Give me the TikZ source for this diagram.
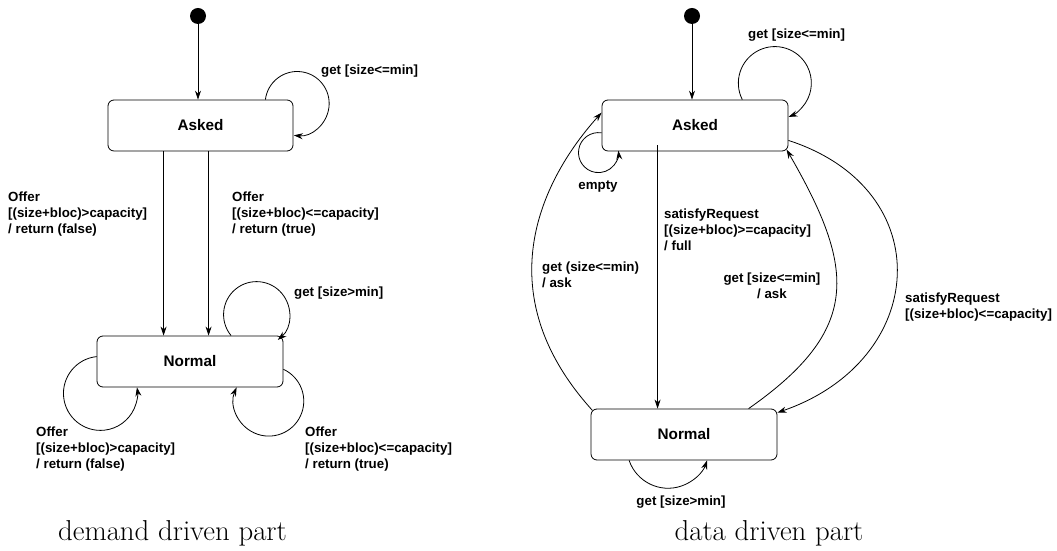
\documentclass[tikz,border=0pt]{standalone}
\usepackage{fontspec}
\setsansfont{Liberation Sans}
\usetikzlibrary{arrows.meta,calc}
\begin{document}
\begin{tikzpicture}[x=1pt,y=1pt,
  state/.style={draw, line width=0.8pt, rounded corners=6pt, minimum width=186pt, minimum height=51pt, inner sep=0pt,
    font=\sffamily\bfseries\fontsize{15.3}{18}\selectfont},
  init/.style={circle, fill=black, minimum size=16pt, inner sep=0pt},
  tr/.style={line width=0.8pt, -{Stealth[length=9pt,width=6pt]}},
  lbl/.style={inner sep=0pt, align=left, font=\sffamily\bfseries\fontsize{13.3}{16}\selectfont},
  captxt/.style={inner sep=0pt, font=\fontsize{28.8}{34}\selectfont}]
\useasboundingbox (0,0) rectangle (1057,551);

% ---------------- left: demand driven part
\node[init] (init1) at (198,535) {};
\node[state, minimum width=185pt] (asked1) at (200.5,425.5) {Asked};
\node[state] (normal1) at (190,189.5) {Normal};

\draw[tr] (init1) -- (init1 |- asked1.north);
\draw[tr] ([xshift=56pt]asked1.south west) coordinate (l1) -- (l1 |- normal1.north);
\draw[tr] ([xshift=101pt]asked1.south west) coordinate (l2) -- (l2 |- normal1.north);
\draw[tr] ([xshift=-28pt]asked1.north east) arc[start angle=173, end angle=-96, radius=32];
\draw[tr] ([xshift=134.5pt]normal1.north west) arc[start angle=219.5, end angle=-50, radius=33];
\draw[tr] ([yshift=-21pt]normal1.north west) arc[start angle=96, end angle=369.5, radius=37];
\draw[tr] ([yshift=-33.7pt]normal1.north east) arc[start angle=65.3, end angle=-203.2, radius=35];

\node[lbl, anchor=west] (t1) at (8,337) {Offer\\{}[(size+bloc)>capacity]\\/ return (false)};
\node[lbl, anchor=west] (t2) at (232,337) {Offer\\{}[(size+bloc)<=capacity]\\/ return (true)};
\node[lbl, anchor=west] (t3) at (36,102) {Offer\\{}[(size+bloc)>capacity]\\/ return (false)};
\node[lbl, anchor=west] (t4) at (305,102) {Offer\\{}[(size+bloc)<=capacity]\\/ return (true)};
\node[lbl, anchor=west] (t5) at (321,480) {get [size<=min]};
\node[lbl, anchor=west] (t6) at (294,258) {get [size>min]};
\node[captxt, anchor=base] (c1) at (172.5,10.3) {demand driven part};

% ---------------- right: data driven part
\node[init] (init2) at (692,535) {};
\node[state] (asked2) at (695,425.5) {Asked};
\node[state] (normal2) at (684,116.5) {Normal};

\draw[tr] (init2) -- (init2 |- asked2.north);
\draw[tr] ([shift={(56pt,6pt)}]asked2.south west) coordinate (r1) -- (r1 |- normal2.north);
\draw[tr] ([xshift=-46.1pt]asked2.north east) arc[start angle=206.9, end angle=-68, radius=36.5];
\draw[tr] ([yshift=-33.25pt]asked2.north west) arc[start angle=81, end angle=365.7, radius=20];
\draw[tr] ([shift={(1.8pt,-1.8pt)}]normal2.north west) .. controls +(-114,126) and +(-50,-55.5) .. ([yshift=-13pt]asked2.north west);
\draw[tr] ([xshift=158pt]normal2.north west) to[out=35, in=-60, looseness=1.35] ([shift={(-1.8pt,1.8pt)}]asked2.south east);
\draw[tr] ([yshift=11pt]asked2.south east) to[out=-18, in=19, looseness=1.5] ([yshift=-4pt]normal2.north east);
\draw[tr] ([xshift=38.5pt]normal2.south west) arc[start angle=198.9, end angle=341.1, radius=41.2];

\node[lbl, anchor=west] (u1) at (664,321) {satisfyRequest\\{}[(size+bloc)>=capacity]\\/ full};
\node[lbl, anchor=west] (u2) at (542,276) {get (size<=min)\\/ ask};
\node[lbl, align=center] (u3) at (772,265) {get [size<=min]\\/ ask};
\node[lbl, anchor=west] (u4) at (905,244) {satisfyRequest\\{}[(size+bloc)<=capacity]};
\node[lbl] (u5) at (598,364) {empty};
\node[lbl] (u6) at (681,49) {get [size>min]};
\node[lbl, anchor=west] (u7) at (748,516) {get [size<=min]};
\node[captxt, anchor=base] (c2) at (769,10.3) {data driven part};
\end{tikzpicture}
\end{document}
